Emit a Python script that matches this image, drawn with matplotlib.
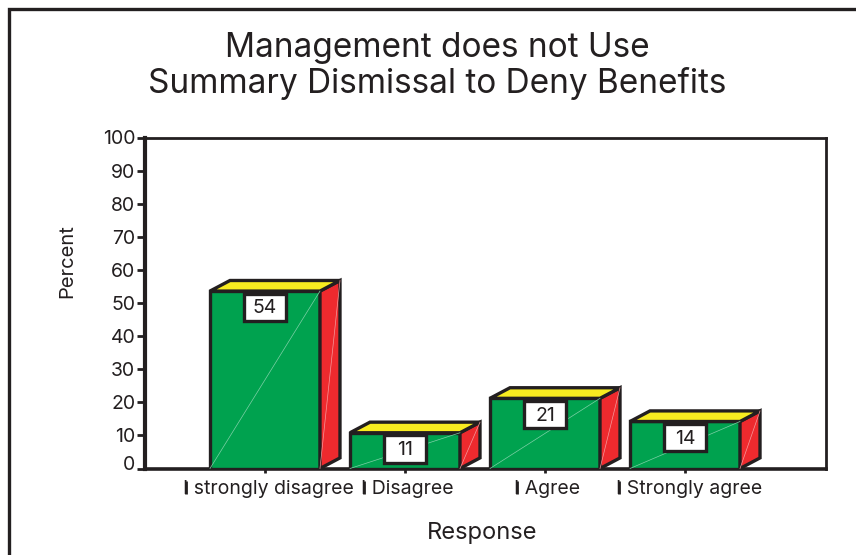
import matplotlib
matplotlib.use("Agg")
import matplotlib.pyplot as plt
from matplotlib.lines import Line2D
from matplotlib.patches import Polygon, Rectangle
from matplotlib.transforms import ScaledTranslation

plt.rcParams['font.family'] = ['Inter', 'Liberation Sans', 'DejaVu Sans']

title = "Management does not Use\nSummary Dismissal to Deny Benefits"
categories = ["I strongly disagree", "I Disagree", "I Agree", "I Strongly agree"]
percent_heights = [53.6, 10.8, 21.2, 14.2]
percent_labels = ["54", "11", "21", "14"]
y_ticks = list(range(0, 101, 10))

INK = "#231f20"
GREEN, RED, YELLOW = "#00a24f", "#ee2a2e", "#f8ec20"
W, H = 856, 555
fig = plt.figure(figsize=(W / 100, H / 100), dpi=100, facecolor="white")
ax = fig.add_axes([145 / W, (H - 468.5) / H, 681 / W, 331 / H])
ax.set_xlim(-0.857, 4.007)
ax.set_ylim(0, 100)

bar_w = 110 / 140
depth_x = 20 / 140
depth_y = 3.2
lw = 2.4
for i, v in enumerate(percent_heights):
    x0, x1 = i - bar_w / 2, i + bar_w / 2
    style = dict(edgecolor=INK, linewidth=lw, joinstyle="miter", zorder=3)
    ax.add_patch(Rectangle((x0, 0), bar_w, v, facecolor=GREEN, **style))
    ax.add_patch(Polygon([(x1, 0), (x1 + depth_x, depth_y), (x1 + depth_x, v + depth_y), (x1, v)],
                         closed=True, facecolor=RED, **style))
    ax.add_patch(Polygon([(x0, v), (x1, v), (x1 + depth_x, v + depth_y), (x0 + depth_x, v + depth_y)],
                         closed=True, facecolor=YELLOW, **style))
    ax.plot([x0, x1], [0, v], color="#7fd0a7", lw=0.5, zorder=4)
    ax.plot([x1, x1 + depth_x], [0, v + depth_y], color="#f59a9c", lw=0.5, zorder=4)
    box_w, box_h = 0.3, 8.2
    ax.add_patch(Rectangle((i - box_w / 2, v - 0.8 - box_h), box_w, box_h, facecolor="white",
                           edgecolor=INK, linewidth=lw, joinstyle="miter", zorder=5))
    ax.text(i, v - 0.8 - box_h / 2 - 0.3, percent_labels[i], ha="center", va="center",
            fontsize=14, color=INK, zorder=6)

for side, width in (("left", 3), ("bottom", 2.6), ("top", 2), ("right", 2)):
    ax.spines[side].set_linewidth(width)
    ax.spines[side].set_color(INK)

ax.set_yticks(y_ticks)
ax.tick_params(axis="y", length=6, width=2, color=INK, labelsize=14, labelcolor=INK, pad=1)
ax.set_xticks(range(len(categories)))
ax.set_xticklabels(categories, ha="left")
ax.tick_params(axis="x", length=3, width=2, color=INK, labelsize=14, labelcolor=INK, pad=5)
label_lefts = (183, 361, 514, 616)
for i, (lab, left) in enumerate(zip(ax.get_xticklabels(), label_lefts)):
    shift = left - (265 + 140 * i)
    lab.set_transform(lab.get_transform() + ScaledTranslation(shift / 100, 0, fig.dpi_scale_trans))
    fig.add_artist(Line2D([(left + 3) / W] * 2, [1 - 481 / H, 1 - 494 / H], color=INK, lw=2,
                          solid_capstyle="butt", transform=fig.transFigure))
zero = ax.get_yticklabels()[0]
zero.set_transform(zero.get_transform() + ScaledTranslation(0, 5 / 100, fig.dpi_scale_trans))

fig.text(437 / W, 1 - 66 / H, title, ha="center", va="center", fontsize=24, color=INK, linespacing=1.1)
fig.text(67 / W, 1 - 261 / H, "Percent", rotation=90, ha="center", va="center", fontsize=14.5, color=INK)
fig.text(482 / W, 1 - 533 / H, "Response", ha="center", va="center", fontsize=17, color=INK)
fig.add_artist(Line2D([9 / W, 9 / W, 1], [0, 1 - 9 / H, 1 - 9 / H], color=INK, lw=2.4,
                      solid_joinstyle="miter", transform=fig.transFigure))
fig.savefig("out.png", dpi=100)
